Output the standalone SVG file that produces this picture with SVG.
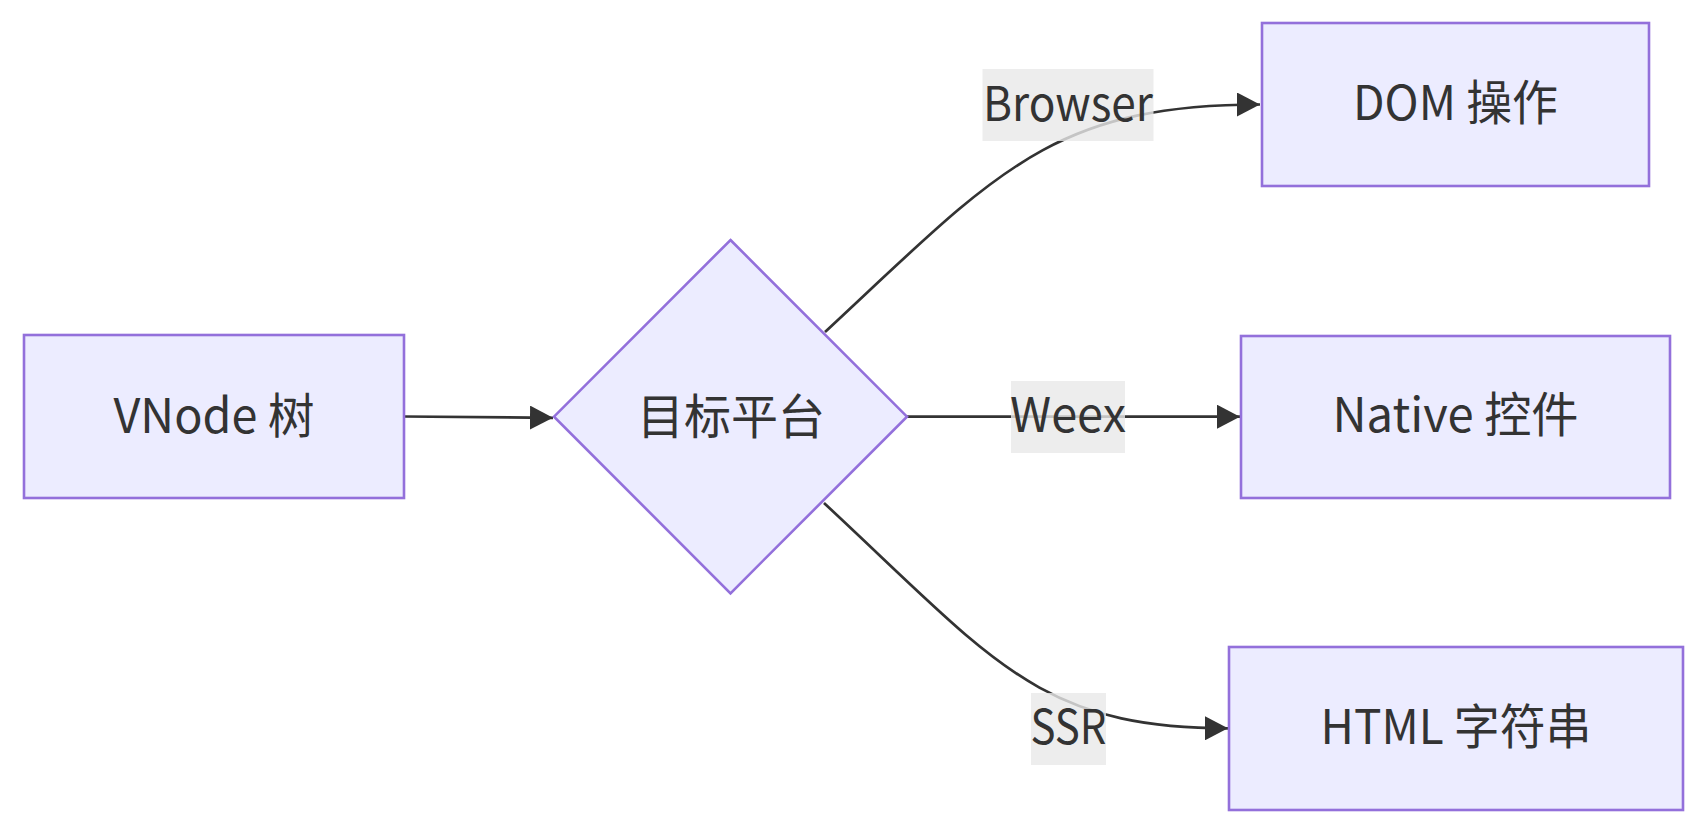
<svg xmlns="http://www.w3.org/2000/svg" width="1707" height="834" viewBox="0 0 1707 834">
<style>
.node rect, .node polygon { fill: #ECECFF; stroke: #9370DB; stroke-width: 2.6; }
text { font-family: "Noto Sans CJK SC", "Noto Sans", sans-serif; font-size: 48px; fill: #333333; text-anchor: middle; }
.edge { fill: none; stroke: #333333; stroke-width: 2.7; marker-end: url(#arrow); }
.lbl rect { fill: rgba(232,232,232,0.8); stroke: none; }
</style>
<defs>
<marker id="arrow" viewBox="0 0 23 24" refX="23" refY="12" markerWidth="23" markerHeight="24" markerUnits="userSpaceOnUse" orient="auto">
<path d="M0,0 L23,12 L0,24 z" fill="#333333"/>
</marker>
</defs>
<rect width="1707" height="834" fill="#ffffff"/>
<g id="connectors">
<path class="edge" d="M404,416.5 L553,417.8"/>
<path class="edge" d="M825,332 C995,174 1050,104.5 1260,104.5"/>
<path class="edge" d="M907,416.7 L1240,416.7"/>
<path class="edge" d="M824,503 C994,661 1038,728.3 1228,728.3"/>
</g>
<g id="edge-labels">
<g class="lbl" id="label-browser"><rect x="982.5" y="69" width="171" height="72"/><text x="1068" y="121" textLength="170" lengthAdjust="spacingAndGlyphs">Browser</text></g>
<g class="lbl" id="label-weex"><rect x="1011" y="381" width="114" height="72"/><text x="1068" y="432" textLength="116" lengthAdjust="spacingAndGlyphs">Weex</text></g>
<g class="lbl" id="label-ssr"><rect x="1031" y="693" width="75" height="72"/><text x="1068.5" y="743.5" textLength="76" lengthAdjust="spacingAndGlyphs">SSR</text></g>
</g>
<g id="node-vnode" class="node"><rect x="24" y="335" width="380" height="163"/><text x="214" y="433" textLength="201" lengthAdjust="spacingAndGlyphs">VNode 树</text></g>
<g id="node-platform" class="node"><polygon points="730.5,240 907,416.7 730.5,593.3 554,416.7"/><text x="731" y="433.5" textLength="188" lengthAdjust="spacingAndGlyphs">目标平台</text></g>
<g id="node-dom" class="node"><rect x="1262" y="23" width="387" height="163"/><text x="1455.5" y="120" textLength="205" lengthAdjust="spacingAndGlyphs">DOM 操作</text></g>
<g id="node-native" class="node"><rect x="1241" y="336" width="429" height="162"/><text x="1455.5" y="432" textLength="246" lengthAdjust="spacingAndGlyphs">Native 控件</text></g>
<g id="node-html" class="node"><rect x="1229" y="647" width="454" height="163"/><text x="1456" y="743.5" textLength="271" lengthAdjust="spacingAndGlyphs">HTML 字符串</text></g>
</svg>
